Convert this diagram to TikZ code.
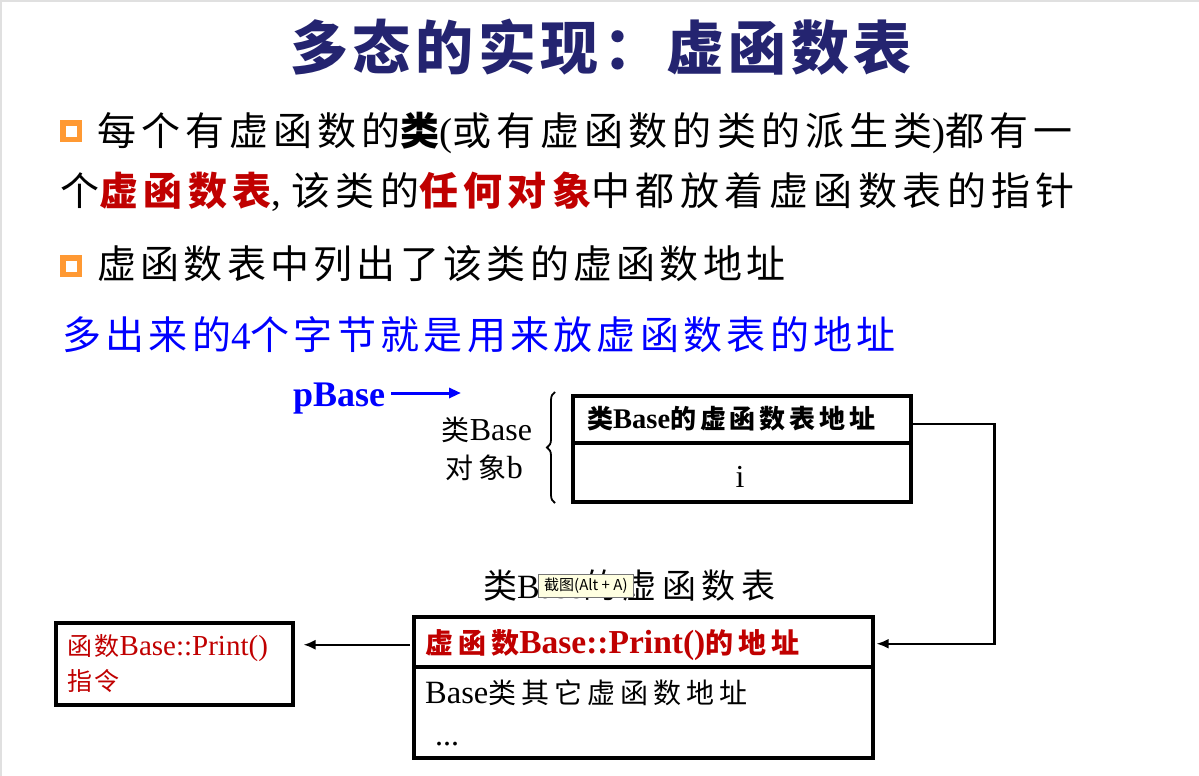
\documentclass[tikz,border=0pt]{standalone}
\usepackage{fontspec}
\setmainfont{Liberation Serif}
\newfontfamily\cjk{Noto Sans CJK SC}
\usetikzlibrary{arrows.meta,decorations.pathreplacing,calc}
\definecolor{titleblue}{RGB}{36,36,112}
\definecolor{darkred}{RGB}{192,0,0}
\definecolor{bulletorange}{RGB}{255,153,51}
\definecolor{tipyellow}{RGB}{255,255,225}
\definecolor{tipgray}{RGB}{118,118,118}
\definecolor{edgegray}{RGB}{224,224,224}
% CJK run with optional letter spacing (percent of the font size)
\newcommand\cj[2][10]{{\cjk\addfontfeature{LetterSpace=#1}#2}}
\newcommand\fs[1]{\fontsize{#1}{#1}\selectfont}
\begin{document}
\begin{tikzpicture}[x=1pt,y=-1pt,
  txt/.style={inner sep=0pt, anchor=base west},
  cell/.style={draw, line width=3.5pt, inner sep=0pt, anchor=north west},
  bulletbox/.style={draw=bulletorange, line width=5.5pt, minimum size=16.5pt, inner sep=0pt},
  link/.style={line width=2.4pt, -{Latex[length=12pt,width=10pt]}},
  ptrarrow/.style={line width=3pt, blue, -{Triangle[length=12pt,width=10pt]}}]
\useasboundingbox (0,0) rectangle (1199,776);
\fill[white] (0,0) rectangle (1199,776);
\fill[edgegray] (0,0) rectangle (1199,2);
\fill[edgegray] (0,0) rectangle (2,776);

% title
\node[txt, text=titleblue] (title) at (290,70)
  {\fs{58}\bfseries\cj[8]{多态的实现：虚函数表}};

% bullet points
\node[bulletbox] (b1) at (71,131) {};
\node[txt] (l1) at (97,145)
  {\fs{39}\cj[13]{每个有虚函数的}{\bfseries\cj[13]{类}}(\cj[13]{或有虚函数的类的派生类})\cj[13]{都有一}};
\node[txt] (l2) at (60,205)
  {\fs{39}\cj[14]{个}{\color{darkred}\bfseries\cj[14]{虚函数表}}, \cj[14]{该类的}{\color{darkred}\bfseries\cj[14]{任何对象}}\cj[14]{中都放着虚函数表的指针}};
\node[bulletbox] (b2) at (71,266) {};
\node[txt] (l3) at (97,278) {\fs{39}\cj[11]{虚函数表中列出了该类的虚函数地址}};
\node[txt, text=blue] (l4) at (62,349)
  {\fs{39}\cj[11]{多出来的}4\cj[11]{个字节就是用来放虚函数表的地址}};

% pointer
\node[txt, text=blue] (pbase) at (293,406) {\fs{36}\bfseries pBase};
\coordinate (ptip) at (461,393);
\draw[ptrarrow] ($(pbase.east |- ptip)+(6,0)$) -- (ptip);

% object b
\node[cell, minimum width=338pt, minimum height=47pt] (objhead) at (571,394) {};
\node[cell, minimum width=338pt, minimum height=59pt] (objbody) at (571,441) {};
\node[txt] (objheadtxt) at (587,428)
  {\bfseries{\fs{26}\cj[0]{类}}{\fs{28.5}Base}{\fs{26}\cj[15]{的虚函数表地址}}};
\node[txt, anchor=base] (ival) at (740,487) {\fs{32}i};

\coordinate (bracelo) at (555,503);
\coordinate (bracehi) at (555,392);
\draw[decorate, decoration={brace, amplitude=8pt}, line width=1.8pt] (bracelo) -- (bracehi);
\node[txt, anchor=base] (objname1) at (487,440) {{\fs{28}\cj[0]{类}}{\fs{32}Base}};
\node[txt, anchor=base] (objname2) at (484,478) {{\fs{28}\cj[20]{对象}}{\fs{32}b}};

% virtual function table
\node[txt] (vtlabel) at (483,598) {{\fs{34}\cj[16]{类}}{\fs{34}Base}{\fs{34}\cj[16]{的虚函数表}}};
\node[draw=tipgray, fill=tipyellow, line width=0.8pt, inner sep=0pt,
  minimum width=95pt, minimum height=23pt, anchor=north west] (tip) at (538,574)
  {\cjk\fs{15}截图(Alt + A)};

\node[cell, minimum width=459pt, minimum height=50pt] (vhead) at (412,615) {};
\node[cell, minimum width=459pt, minimum height=91pt] (vbody) at (412,665) {};
\node[txt, text=darkred] (vheadtxt) at (425,653)
  {\bfseries{\fs{28}\cj[18]{虚函数}}{\fs{33.5}Base::Print()}{\fs{28}\cj[18]{的地址}}};
\node[txt] (vbodytxt) at (425,703) {{\fs{32.5}Base}{\fs{28}\cj[18]{类其它虚函数地址}}};
\node[txt] (vdots) at (435,745) {\fs{32}...};

% code of Base::Print()
\node[cell, minimum width=237pt, minimum height=82pt] (code) at (54,621) {};
\node[txt, text=darkred] (codetxt1) at (67,655) {{\fs{25}\cj[10]{函数}}{\fs{29}Base::Print()}};
\node[txt, text=darkred] (codetxt2) at (67,690) {\fs{25}\cj[10]{指令}};

% connectors
\coordinate (objout) at ($(objhead.east)+(0,5)$);
\coordinate (vin) at ($(vhead.east)+(2,2)$);
\draw[link] (objout) -- ++(82,0) |- (vin);
\coordinate (vout) at ($(vhead.west)+(-2,3)$);
\draw[link, line width=2pt, shorten >=9pt] (vout) -- (vout -| code.east);
\end{tikzpicture}
\end{document}
